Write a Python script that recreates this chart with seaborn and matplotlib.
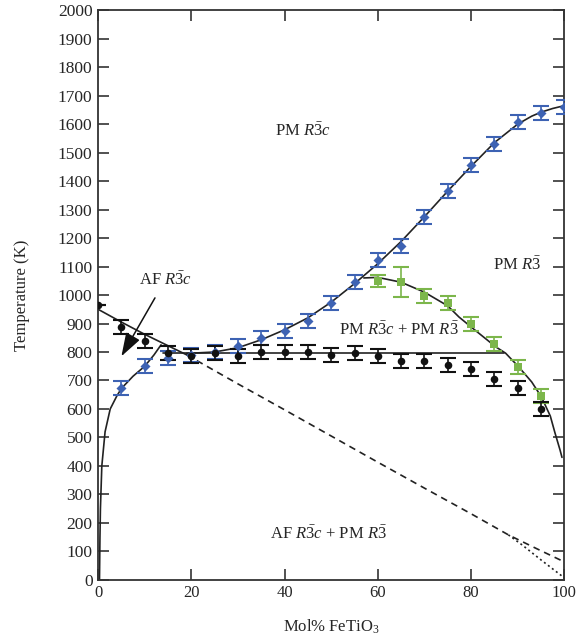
import matplotlib
matplotlib.use("Agg")
import matplotlib.pyplot as plt
import seaborn as sns
import pandas as pd

# ---------------- data ----------------
x_pts = [5, 10, 15, 20, 25, 30, 35, 40, 45, 50, 55, 60, 65, 70, 75, 80, 85, 90, 95, 100]
blue_T = [674, 750, 780, 790, 800, 822, 850, 875, 910, 972, 1046, 1123, 1172, 1274, 1365, 1456, 1530, 1607, 1638, 1660]
blue_err = [25] * 20

black_x = [0, 5, 10, 15, 20, 25, 30, 35, 40, 45, 50, 55, 60, 65, 70, 75, 80, 85, 90, 95]
black_T = [965, 888, 839, 796, 786, 796, 786, 800, 800, 800, 789, 796, 786, 768, 768, 754, 740, 705, 674, 600]
black_err = [0, 25, 25, 25, 25, 25, 25, 25, 25, 25, 25, 25, 25, 25, 25, 25, 25, 25, 25, 25]

green_x = [60, 65, 70, 75, 80, 85, 90, 95]
green_T = [1049, 1046, 996, 972, 898, 828, 748, 646]
green_err = [20, 52, 25, 25, 25, 25, 25, 25]

# hand-read boundary curves
c1_x = [0.3, 0.4, 0.5, 0.8, 1.5, 2.6, 4.0, 5.0, 7.5, 10.0, 12.0, 13.5]
c1_T = [0, 150, 250, 400, 520, 600, 645, 672, 715, 750, 790, 825]

c2_x = [0, 5, 10, 15, 19]
c2_T = [950, 905, 862, 822, 790]

c3_x = [14, 30, 50, 70, 87]
c3_T = [798, 798, 798, 798, 798]

c4_x = [19, 25, 30, 35, 40, 45, 50, 55, 60, 65, 70, 75, 80, 85, 90, 93, 95, 97.5, 100]
c4_T = [795, 800, 815, 843, 878, 920, 975, 1040, 1110, 1188, 1275, 1365, 1452, 1535, 1600, 1628, 1642, 1655, 1665]

c5_x = [57, 60, 65, 70, 75, 77.4, 80, 85.3, 87.4, 90.2, 93, 95.1, 97, 98, 99.1, 99.5]
c5_T = [1060, 1062, 1045, 1010, 962, 923, 888, 818, 796, 748, 695, 642, 575, 516, 455, 430]

dash_x = [19, 30, 40, 50, 60, 70, 80, 88, 94, 100]
dash_T = [790, 688, 597, 505, 413, 322, 232, 158, 110, 63]

dot_x = [88, 91, 95, 100]
dot_T = [158, 122, 70, 7]

# ---------------- style ----------------
sns.set_theme(style="ticks")
plt.rcParams["font.family"] = ["Liberation Serif", "DejaVu Serif"]
plt.rcParams["mathtext.fontset"] = "custom"
plt.rcParams["mathtext.rm"] = "Liberation Serif"
plt.rcParams["mathtext.it"] = "Liberation Serif:italic"
plt.rcParams["mathtext.bf"] = "Liberation Serif:bold"

BLUE = "#3d62b3"
GREEN = "#7cb64b"
BLACK = "#111111"

fig = plt.figure(figsize=(5.77, 6.40), dpi=100)
ax = fig.add_axes([0.170, 0.094, 0.808, 0.890])

def curve(xs, ys, **kw):
    df = pd.DataFrame({"x": xs, "y": ys})
    sns.lineplot(data=df, x="x", y="y", ax=ax, sort=False, estimator=None,
                 color="#222222", lw=1.2, **kw)

curve(c1_x, c1_T)
curve(c2_x, c2_T)
curve(c3_x, c3_T)
curve(c4_x, c4_T)
curve(c5_x, c5_T)
curve(dash_x, dash_T, linestyle=(0, (4, 3)))
curve(dot_x, dot_T, linestyle=(0, (1.2, 1.8)))

# error bars
ax.errorbar(x_pts, blue_T, yerr=blue_err, fmt="none", ecolor=BLUE, elinewidth=1.2,
            capsize=6, capthick=1.5, zorder=3)
ax.errorbar(green_x, green_T, yerr=green_err, fmt="none", ecolor=GREEN, elinewidth=1.2,
            capsize=6, capthick=1.5, zorder=3)
ax.errorbar(black_x, black_T, yerr=black_err, fmt="none", ecolor=BLACK, elinewidth=1.2,
            capsize=6, capthick=1.5, zorder=3)

sns.scatterplot(x=x_pts, y=blue_T, ax=ax, marker="D", s=26, color=BLUE, edgecolor=BLUE,
                linewidth=0, zorder=4)
sns.scatterplot(x=green_x, y=green_T, ax=ax, marker="s", s=28, color=GREEN, edgecolor=GREEN,
                linewidth=0, zorder=4)
sns.scatterplot(x=black_x, y=black_T, ax=ax, marker="o", s=30, color=BLACK, edgecolor=BLACK,
                linewidth=0, zorder=5)

# annotations
R3c = r"$\mathit{R}\bar{3}\mathit{c}$"
R3 = r"$\mathit{R}\bar{3}$"
fs = 12
ax.text(44, 1575, "PM " + R3c, ha="center", va="center", fontsize=fs)
ax.text(90, 1105, "PM " + R3, ha="center", va="center", fontsize=fs)
ax.text(14.5, 1052, "AF " + R3c, ha="center", va="center", fontsize=fs)
ax.text(64.5, 877, "PM " + R3c + " + PM " + R3, ha="center", va="center", fontsize=fs)
ax.text(49.5, 160, "AF " + R3c + " + PM " + R3, ha="center", va="center", fontsize=fs)
ax.annotate("", xy=(5.0, 785), xytext=(12.2, 990),
            arrowprops=dict(arrowstyle="-|>,head_length=1.2,head_width=0.4",
                            color="#111111", lw=1.1, shrinkA=0, shrinkB=0))

# axes
ax.set_xlim(0, 100)
ax.set_ylim(0, 2000)
ax.set_xticks([0, 20, 40, 60, 80, 100])
ax.set_yticks(range(0, 2001, 100))
ax.tick_params(direction="in", length=8, width=1.2, labelsize=12.5, color="#333333",
               top=True, right=True, labeltop=False, labelright=False, pad=4)
ax.tick_params(axis="x", labelsize=12)
for sp in ax.spines.values():
    sp.set_linewidth(1.3)
    sp.set_color("#333333")
    sp.set_visible(True)
ax.set_xlabel(r"Mol% FeTiO$_3$", fontsize=12, labelpad=12)
ax.set_ylabel("Temperature (K)", fontsize=12, labelpad=20)
ax.grid(False)

fig.savefig("out.png", dpi=100)
